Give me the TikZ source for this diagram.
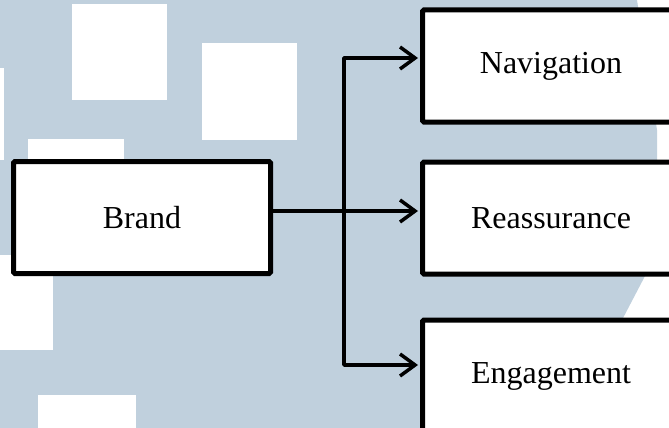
\documentclass[tikz,border=0pt]{standalone}
\usepackage{fontspec}
\setmainfont{Liberation Serif}
\usetikzlibrary{arrows.meta}
\definecolor{bgblue}{RGB}{192,208,221}
\begin{document}
\begin{tikzpicture}[x=1pt,y=-1pt,
  box/.style={draw=black, line width=5pt, fill=white, rounded corners=1.5pt,
    minimum width=257pt, minimum height=112pt, inner sep=0pt,
    font=\fontsize{32}{38}\selectfont},
  conn/.style={line width=3.5pt, line join=round},
  arr/.style={conn, shorten >=2pt, -{Straight Barb[length=15pt,width=22pt,line width=3.5pt]}},
  wsq/.style={fill=white}]
\useasboundingbox (0,0) rectangle (669,428);
\clip (0,0) rectangle (669,428);
\fill[white] (0,0) rectangle (669,428);
\fill[bgblue] (0,0) -- (637,0) -- (657,130) -- (657,160) -- (645,276) -- (622,320) -- (622,428) -- (0,428) -- cycle;
\fill[wsq] (72,4) rectangle (167,100);
\fill[wsq] (202,43) rectangle (297,140);
\fill[wsq] (0,68) rectangle (4,160);
\fill[wsq] (28,139) rectangle (124,180);
\fill[wsq] (0,255) rectangle (53,350);
\fill[wsq] (38,395) rectangle (136,428);
\node[box] (brand) at (142,217.5) {Brand};
\node[box] (nav) at (551,66) {Navigation};
\node[box] (reas) at (551,218) {Reassurance};
\node[box] (eng) at (551,376) {Engagement};
\coordinate (j) at (344,211);
\draw[conn] ([yshift=6.5pt]brand.east) -- (j);
\draw[arr] (j) -- ([yshift=7pt]reas.west);
\draw[arr] (j) |- ([yshift=8pt]nav.west);
\draw[arr] (j) |- ([yshift=11pt]eng.west);
\end{tikzpicture}
\end{document}
